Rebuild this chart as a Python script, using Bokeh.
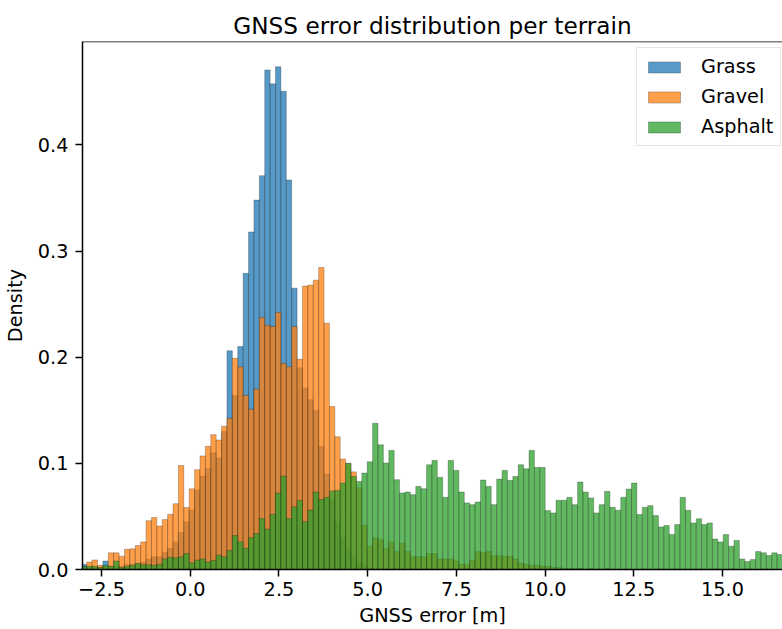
import numpy as np
from bokeh.plotting import figure
from bokeh.models import (ColumnDataSource, FixedTicker, Span, Legend, LegendItem,
                          PrintfTickFormatter)
from bokeh.embed import file_html
from bokeh.resources import INLINE

# ---------------- data ----------------
bin_start = -3.069
bin_width = 0.152

grass = [
    0.005, 0.002, 0.002, 0.002, 0.008, 0.003, 0.004, 0.003, 0.005, 0.005,
    0.006, 0.007, 0.010, 0.012, 0.012, 0.016, 0.020, 0.026, 0.035, 0.045,
    0.056, 0.075, 0.088, 0.095, 0.110, 0.105, 0.130, 0.206, 0.164, 0.210,
    0.279, 0.318, 0.348, 0.371, 0.4706, 0.4575, 0.4737, 0.4505, 0.367, 0.265,
    0.190, 0.171, 0.160, 0.150, 0.116, 0.090, 0.065, 0.045, 0.030, 0.020,
    0.012, 0.007, 0.004, 0.002, 0, 0, 0, 0, 0, 0,
    0, 0, 0, 0, 0, 0, 0, 0, 0, 0,
    0, 0, 0, 0, 0, 0, 0, 0, 0, 0,
    0, 0, 0, 0, 0, 0, 0, 0, 0, 0,
    0, 0, 0, 0, 0, 0, 0, 0, 0, 0,
    0, 0, 0, 0, 0, 0, 0, 0, 0, 0,
    0, 0, 0, 0, 0, 0, 0, 0, 0, 0,
    0, 0, 0, 0, 0, 0, 0, 0, 0, 0,
]

gravel = [
    0.002, 0.007, 0.009, 0.004, 0.003, 0.0157, 0.0157, 0.0125, 0.019, 0.0195,
    0.0225, 0.026, 0.046, 0.049, 0.041, 0.047, 0.052, 0.062, 0.098, 0.0585,
    0.076, 0.094, 0.107, 0.116, 0.127, 0.122, 0.135, 0.1425, 0.199, 0.191,
    0.164, 0.151, 0.170, 0.2375, 0.230, 0.229, 0.242, 0.194, 0.191, 0.229,
    0.198, 0.267, 0.268, 0.2726, 0.2845, 0.232, 0.1535, 0.125, 0.104, 0.100,
    0.092, 0.077, 0.042, 0.022, 0.030, 0.028, 0.020, 0.026, 0.017, 0.025,
    0.017, 0.012, 0.012, 0.012, 0.015, 0.015, 0.010, 0.010, 0.010, 0.008,
    0.005, 0.005, 0.009, 0.017, 0.016, 0.017, 0.013, 0.013, 0.0125, 0.0125,
    0.010, 0.006, 0.005, 0.004, 0.004, 0.003, 0.003, 0.002, 0.002, 0.001,
    0.001, 0.001, 0.001, 0, 0.001, 0, 0, 0.001, 0, 0,
    0, 0, 0, 0, 0, 0, 0, 0, 0, 0,
    0, 0, 0, 0, 0, 0, 0, 0, 0, 0,
    0, 0, 0, 0, 0, 0, 0, 0, 0, 0,
]

asphalt = [
    0.003, 0.003, 0.003, 0.002, 0.004, 0.003, 0.008, 0.002, 0.003, 0.004,
    0.0056, 0.0045, 0.0045, 0.004, 0.005, 0.010, 0.0116, 0.011, 0.012, 0.015,
    0.0063, 0.0088, 0.010, 0.007, 0.0085, 0.0135, 0.012, 0.018, 0.032, 0.026,
    0.020, 0.030, 0.034, 0.048, 0.038, 0.052, 0.072, 0.088, 0.048, 0.059,
    0.065, 0.045, 0.056, 0.073, 0.066, 0.068, 0.074, 0.0745, 0.0815, 0.100,
    0.0877, 0.083, 0.0909, 0.1015, 0.1378, 0.1175, 0.1003, 0.1122, 0.0846, 0.0721,
    0.073, 0.0705, 0.0783, 0.0761, 0.0987, 0.1028, 0.0868, 0.068, 0.1028, 0.0934,
    0.073, 0.0627, 0.0611, 0.0636, 0.0843, 0.0783, 0.0611, 0.0852, 0.0934, 0.084,
    0.0877, 0.0987, 0.0949, 0.1122, 0.0962, 0.0962, 0.0555, 0.0533, 0.0652, 0.0652,
    0.068, 0.0611, 0.0824, 0.073, 0.0674, 0.0533, 0.0611, 0.0736, 0.0586, 0.0558,
    0.068, 0.0758, 0.0815, 0.0517, 0.0586, 0.0602, 0.0508, 0.0401, 0.0414, 0.0329,
    0.0423, 0.068, 0.0558, 0.0439, 0.0479, 0.0423, 0.0439, 0.0288, 0.026, 0.0329,
    0.0219, 0.0273, 0.010, 0.0075, 0.0094, 0.0169, 0.0157, 0.0132, 0.0157, 0.0141,
]

series_names = ["Grass", "Gravel", "Asphalt"]
series_colors = ["#1f77b4", "#ff7f0e", "#2ca02c"]
x_ticks = [-2.5, 0.0, 2.5, 5.0, 7.5, 10.0, 12.5, 15.0]
y_ticks = [0.0, 0.1, 0.2, 0.3, 0.4]
x_label = "GNSS error [m]"
y_label = "Density"
title_text = "GNSS error distribution per terrain"

FONT = "DejaVu Sans"
FS = "19.3px"

X_START, X_END = -3.036, 16.69
Y_START, Y_END = 0.0, 0.4974

# ---------------- figure ----------------
p = figure(width=782, height=629, x_range=(X_START, X_END), y_range=(Y_START, Y_END),
           output_backend="svg", toolbar_location=None,
           min_border_left=82, min_border_right=0, min_border_top=41, min_border_bottom=59)
p.background_fill_color = "white"
p.border_fill_color = "white"
p.outline_line_color = None
p.xgrid.visible = False
p.ygrid.visible = False

p.title.text = title_text
p.title.align = "center"
p.title.offset = 5
p.title.text_font = FONT
p.title.text_font_size = "23.2px"
p.title.text_font_style = "normal"
p.title.text_color = "black"
p.title.standoff = 6

renderers = []
all_series = [grass, gravel, asphalt]
for name, vals, col in zip(series_names, all_series, series_colors):
    vals = np.asarray(vals, dtype=float)
    edges = bin_start + bin_width * np.arange(len(vals) + 1)
    mask = vals > 0
    src = ColumnDataSource(dict(left=edges[:-1][mask], right=edges[1:][mask],
                                top=vals[mask], bottom=np.zeros(int(mask.sum()))))
    r = p.quad(left="left", right="right", top="top", bottom="bottom", source=src,
               fill_color=col, fill_alpha=0.75, line_color="black", line_alpha=0.4,
               line_width=0.6)
    renderers.append((name, r))

# axes styling
for ax in (p.xaxis[0], p.yaxis[0]):
    ax.axis_line_color = "black"
    ax.axis_line_width = 1.5
    ax.major_tick_line_color = "black"
    ax.major_tick_line_width = 1.5
    ax.major_tick_out = 7
    ax.major_tick_in = 0
    ax.minor_tick_line_color = None
    ax.major_label_text_font = FONT
    ax.major_label_text_font_size = FS
    ax.major_label_text_color = "black"
    ax.axis_label_text_font = FONT
    ax.axis_label_text_font_size = FS
    ax.axis_label_text_font_style = "normal"
    ax.axis_label_text_color = "black"

p.xaxis.ticker = FixedTicker(ticks=x_ticks)
p.xaxis.formatter = PrintfTickFormatter(format="%.1f")
p.xaxis.major_label_overrides = {t: ("%.1f" % t).replace("-", "\u2212") for t in x_ticks if t < 0}
p.xaxis.major_label_standoff = 5
p.xaxis.axis_label = x_label
p.xaxis.axis_label_standoff = 5

p.yaxis.ticker = FixedTicker(ticks=y_ticks)
p.yaxis.formatter = PrintfTickFormatter(format="%.1f")
p.yaxis.axis_label = y_label
p.yaxis.major_label_standoff = 7
p.yaxis.axis_label_standoff = 8

top_line = Span(location=Y_END, dimension="width", line_color="black", line_width=1.5)
p.add_layout(top_line)

legend = Legend(items=[LegendItem(label=n, renderers=[r]) for n, r in renderers],
                location=(554, 423))
legend.border_line_color = "#cccccc"
legend.border_line_width = 1
legend.background_fill_alpha = 0.8
legend.label_text_font = FONT
legend.label_text_font_size = FS
legend.label_text_color = "black"
legend.glyph_width = 40
legend.glyph_height = 14
legend.label_height = 22
legend.spacing = 7
legend.padding = 7
legend.label_standoff = 17
legend.margin = 0
p.add_layout(legend)

open("out.html", "w").write(file_html(p, INLINE))
